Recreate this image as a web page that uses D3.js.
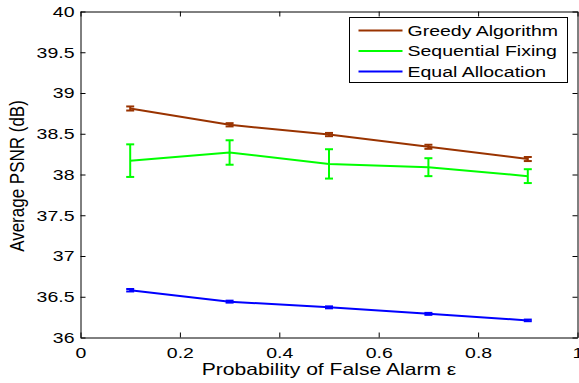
<!DOCTYPE html>
<html>
<head>
<meta charset="utf-8">
<script src="https://cdn.jsdelivr.net/npm/d3@7"></script>
<style>
  body { margin: 0; background: #fff; }
  text { font-family: "Liberation Sans", Arial, Helvetica, sans-serif; }
</style>
</head>
<body>
<svg id="chart" width="579" height="383"></svg>
<script>
// data
var xVals = [0.1, 0.3, 0.5, 0.7, 0.9];
var greedy = [38.81, 38.61, 38.49, 38.34, 38.19];
var greedyErr = [0.025, 0.02, 0.02, 0.025, 0.025];
var sequential = [38.17, 38.27, 38.13, 38.09, 37.98];
var sequentialErr = [0.2, 0.15, 0.18, 0.11, 0.085];
var equal = [36.58, 36.44, 36.37, 36.29, 36.21];
var equalErr = [0.015, 0.012, 0.012, 0.012, 0.01];
var xTicks = [0, 0.2, 0.4, 0.6, 0.8, 1];
var yTicks = [36, 36.5, 37, 37.5, 38, 38.5, 39, 39.5, 40];
var seriesNames = ["Greedy Algorithm", "Sequential Fixing", "Equal Allocation"];
var seriesColors = ["#993300", "#00ff00", "#0000ff"];

var svg = d3.select("#chart"),
  plotL = 80.5, plotR = 577.5, plotT = 11.5, plotB = 337.5,
  sx = 1.3; // text in the source is stretched horizontally

var x = d3.scaleLinear().domain([0, 1]).range([plotL, plotR]);
var y = d3.scaleLinear().domain([36, 40]).range([plotB, plotT]);

var series = [
  { name: seriesNames[0], color: seriesColors[0], vals: greedy, err: greedyErr },
  { name: seriesNames[1], color: seriesColors[1], vals: sequential, err: sequentialErr },
  { name: seriesNames[2], color: seriesColors[2], vals: equal, err: equalErr }
];

// axes with inward ticks
var fmt = function (d) { return d3.format("")(d); };

var gx = svg.append("g")
  .attr("transform", "translate(0," + plotB + ")")
  .call(d3.axisBottom(x).tickValues(xTicks).tickFormat(fmt).tickSizeInner(-5).tickSizeOuter(0).tickPadding(10));
gx.selectAll("text").attr("transform", "scale(" + sx + ",1)");

var gy = svg.append("g")
  .attr("transform", "translate(" + plotL + ",0)")
  .call(d3.axisLeft(y).tickValues(yTicks).tickFormat(fmt).tickSizeInner(-5).tickSizeOuter(0).tickPadding(6));
gy.selectAll("text").attr("x", 0).attr("transform", "translate(-6,0) scale(" + sx + ",1)");

svg.append("g")
  .attr("transform", "translate(0," + plotT + ")")
  .call(d3.axisTop(x).tickValues(xTicks).tickFormat("").tickSizeInner(-5).tickSizeOuter(0));

svg.append("g")
  .attr("transform", "translate(" + plotR + ",0)")
  .call(d3.axisRight(y).tickValues(yTicks).tickFormat("").tickSizeInner(-5).tickSizeOuter(0));

svg.selectAll(".domain").attr("stroke", "#000");
svg.selectAll(".tick line").attr("stroke", "#000");
svg.selectAll(".tick text").attr("font-size", 15).attr("fill", "#000")
  .style("font-family", "'Liberation Sans', Arial, sans-serif");

// lines and error bars
var line = d3.line()
  .x(function (d, i) { return x(xVals[i]); })
  .y(function (d) { return y(d); });

var capW = 4;
series.forEach(function (s) {
  var g = svg.append("g");
  g.append("path")
    .datum(s.vals)
    .attr("fill", "none")
    .attr("stroke", s.color)
    .attr("stroke-width", 2)
    .attr("d", line);

  var bars = g.selectAll("g.err")
    .data(s.vals.map(function (v, i) { return { x: xVals[i], v: v, e: s.err[i] }; }))
    .enter().append("g")
    .attr("stroke", s.color)
    .attr("stroke-width", 2);

  bars.append("line")
    .attr("x1", function (d) { return x(d.x); })
    .attr("x2", function (d) { return x(d.x); })
    .attr("y1", function (d) { return y(d.v + d.e); })
    .attr("y2", function (d) { return y(d.v - d.e); });
  bars.append("line")
    .attr("x1", function (d) { return x(d.x) - capW; })
    .attr("x2", function (d) { return x(d.x) + capW; })
    .attr("y1", function (d) { return y(d.v + d.e); })
    .attr("y2", function (d) { return y(d.v + d.e); });
  bars.append("line")
    .attr("x1", function (d) { return x(d.x) - capW; })
    .attr("x2", function (d) { return x(d.x) + capW; })
    .attr("y1", function (d) { return y(d.v - d.e); })
    .attr("y2", function (d) { return y(d.v - d.e); });
});

// axis labels
svg.append("text")
  .attr("transform", "translate(" + ((plotL + plotR) / 2) + ",375) scale(1.28,1)")
  .attr("text-anchor", "middle")
  .attr("font-size", 16.5)
  .attr("fill", "#000")
  .text("Probability of False Alarm ε");

svg.append("text")
  .attr("transform", "translate(24,176) rotate(-90) scale(1,1.2)")
  .attr("text-anchor", "middle")
  .attr("font-size", 17)
  .attr("fill", "#000")
  .text("Average PSNR (dB)");

// legend
var legend = svg.append("g").attr("transform", "translate(349.5,17.5)");
legend.append("rect")
  .attr("width", 218)
  .attr("height", 65)
  .attr("fill", "#fff")
  .attr("stroke", "#000");

var items = legend.selectAll("g.item")
  .data(series)
  .enter().append("g")
  .attr("transform", function (d, i) { return "translate(0," + (13 + i * 20.5) + ")"; });

items.append("line")
  .attr("x1", 9)
  .attr("x2", 53)
  .attr("stroke", function (d) { return d.color; })
  .attr("stroke-width", 2);

items.append("text")
  .attr("transform", "translate(58,0) scale(" + sx + ",1)")
  .attr("dy", "0.35em")
  .attr("font-size", 15)
  .attr("fill", "#000")
  .text(function (d) { return d.name; });
</script>
</body>
</html>
